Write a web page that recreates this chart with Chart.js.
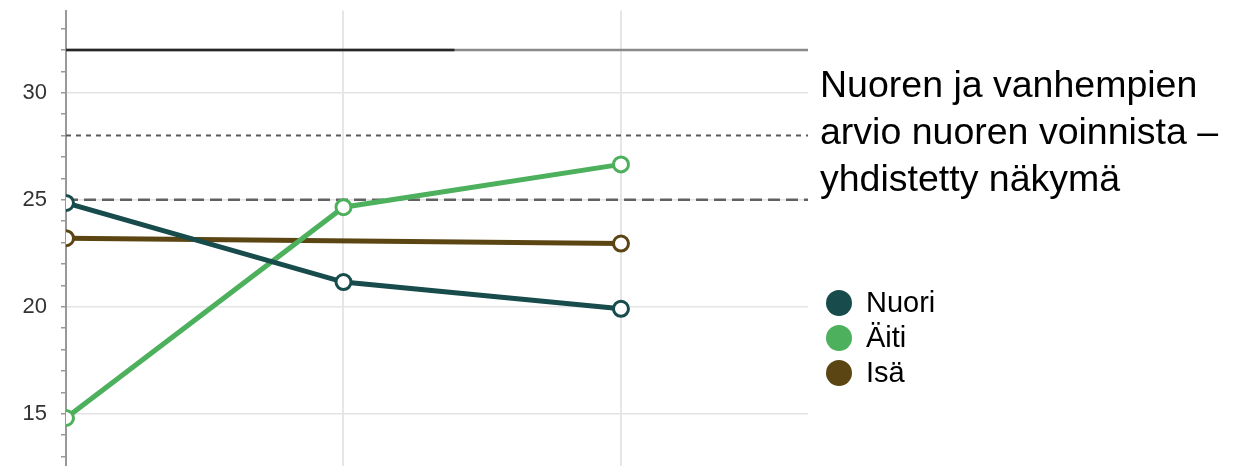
<!DOCTYPE html>
<html>
<head>
<meta charset="utf-8">
<script src="https://cdn.jsdelivr.net/npm/chart.js@4/dist/chart.umd.min.js"></script>
<style>
  html, body { margin: 0; padding: 0; background: #fff; }
  #wrap { position: relative; width: 1245px; height: 466px; overflow: hidden; }
  #chartBox { position: absolute; left: 0; top: 0; width: 1245px; height: 476px; }
  #title { position: absolute; left: 820px; top: 61px; font-family: "Liberation Sans", Arial, sans-serif; font-size: 37.5px; line-height: 47px; color: #000; white-space: nowrap; }
  #legend { position: absolute; left: 826px; top: 285px; font-family: "Liberation Sans", Arial, sans-serif; font-size: 29px; color: #000; }
  .lg-row { display: flex; align-items: center; height: 35px; }
  .lg-dot { width: 26px; height: 26px; border-radius: 50%; margin-right: 14px; }
</style>
</head>
<body>
<div id="wrap">
  <div id="chartBox"><canvas id="c"></canvas></div>
  <div id="title"></div>
  <div id="legend"></div>
</div>
<script>
// ---- data ----
const measurementIndex = [0, 1, 2];
const seriesNames = ['Nuori', 'Äiti', 'Isä'];
const seriesColors = ['#184b4b', '#4cb05c', '#5b4613'];
const nuoriValues = [24.85, 21.15, 19.9];
const aitiValues = [14.8, 24.65, 26.65];
const isaValues = [23.2, null, 22.95];
const yTickValues = [13, 14, 15, 16, 17, 18, 19, 20, 21, 22, 23, 24, 25, 26, 27, 28, 29, 30, 31, 32, 33];
const yLabelValues = [15, 20, 25, 30];
const upperLimit = 32;
const dottedLevel = 28;
const dashedLevel = 25;
const upperLimitDarkEnd = 1.4;
const titleLines = ['Nuoren ja vanhempien', 'arvio nuoren voinnista –', 'yhdistetty näkymä'];

const Y_MIN = 12.58, Y_MAX = 33.84, X_MIN = 0, X_MAX = 2.674;

const seriesValues = [nuoriValues, aitiValues, isaValues];
const toPoints = vals => measurementIndex.map((x, i) => ({ x: x, y: vals[i] })).filter(p => p.y !== null);

const refLine = (y, x0, x1, color, width, dash) => ({
  data: [{ x: x0, y: y }, { x: x1, y: y }],
  borderColor: color, borderWidth: width, borderDash: dash,
  pointRadius: 0, fill: false, clip: 0, order: 10
});

// first dataset in the list is drawn on top
const datasets = [
  refLine(upperLimit, X_MIN, upperLimitDarkEnd, '#262626', 2.5, []),
  refLine(upperLimit, X_MIN, X_MAX, '#8a8a8a', 2.5, []),
  refLine(dottedLevel, X_MIN, X_MAX, '#5a5a5a', 2, [5, 5]),
  refLine(dashedLevel, X_MIN, X_MAX, '#616161', 2.5, [12, 6]),
];
seriesNames.forEach((name, i) => {
  datasets.push({
    label: name,
    data: toPoints(seriesValues[i]),
    borderColor: seriesColors[i],
    backgroundColor: '#ffffff',
    borderWidth: 5,
    pointRadius: 7.5,
    pointBorderWidth: 3,
    pointBackgroundColor: '#ffffff',
    pointBorderColor: seriesColors[i],
    fill: false,
    tension: 0,
    spanGaps: true,
    clip: 0,
    order: 1
  });
});

new Chart(document.getElementById('c'), {
  type: 'line',
  data: { datasets: datasets },
  options: {
    responsive: true,
    maintainAspectRatio: false,
    animation: false,
    layout: { padding: { left: 0, right: 437, top: 10, bottom: 0 } },
    plugins: { legend: { display: false }, tooltip: { enabled: false }, title: { display: false } },
    scales: {
      x: {
        type: 'linear', min: X_MIN, max: X_MAX,
        afterBuildTicks: s => { s.ticks = measurementIndex.map(v => ({ value: v })); },
        afterFit: s => { s.height = 0; s.paddingLeft = 0; s.paddingRight = 0; },
        ticks: { display: false },
        grid: { color: '#e6e6e6', lineWidth: 2, drawTicks: false },
        border: { display: false }
      },
      y: {
        type: 'linear', min: Y_MIN, max: Y_MAX,
        afterBuildTicks: s => { s.ticks = yTickValues.map(v => ({ value: v })); },
        afterFit: s => { s.width = 66; s.paddingTop = 0; s.paddingBottom = 0; },
        ticks: {
          autoSkip: false,
          padding: 14,
          color: '#333',
          font: { family: '"Liberation Sans", Arial, sans-serif', size: 22 },
          callback: v => yLabelValues.includes(v) ? String(v) : ''
        },
        grid: {
          color: ctx => (ctx.tick && yLabelValues.includes(ctx.tick.value)) ? '#e4e4e4' : 'rgba(0,0,0,0)',
          lineWidth: 1.5,
          tickLength: 5,
          tickColor: '#999',
          tickWidth: 1.5
        },
        border: { display: true, color: '#999', width: 2 }
      }
    }
  }
});

document.getElementById('title').innerHTML = titleLines.join('<br>');
const lg = document.getElementById('legend');
seriesNames.forEach((n, i) => {
  const row = document.createElement('div');
  row.className = 'lg-row';
  const dot = document.createElement('span');
  dot.className = 'lg-dot';
  dot.style.background = seriesColors[i];
  const t = document.createElement('span');
  t.textContent = n;
  row.appendChild(dot); row.appendChild(t);
  lg.appendChild(row);
});
</script>
</body>
</html>
